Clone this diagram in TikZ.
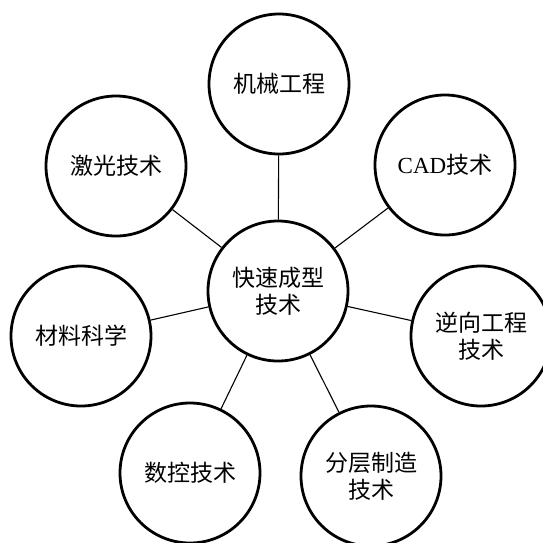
\documentclass[tikz,border=0pt]{standalone}
\usepackage{fontspec}
\setmainfont{Liberation Serif}
\newfontfamily\cjk{Noto Sans CJK SC}
\newcommand{\latin}[1]{{\rmfamily #1}}
\begin{document}
\begin{tikzpicture}[x=1pt,y=-1pt,
  bubble/.style={circle,draw,line width=2.8pt,minimum size=140pt,inner sep=0pt,
    fill=white,align=center,font=\fontsize{23}{27}\selectfont\cjk},
  link/.style={line width=1.1pt}]
\useasboundingbox (0,0) rectangle (543,542);
\node[bubble] (c0) at (278,291) {快速成型\\技术};
\node[bubble] (top) at (279,84) {机械工程};
\node[bubble] (laser) at (116,166) {激光技术};
\node[bubble] (cad) at (445,165) {\latin{CAD}技术};
\node[bubble] (mat) at (81,336) {材料科学};
\node[bubble] (rev) at (481,336) {逆向工程\\技术};
\node[bubble] (nc) at (190,473) {数控技术};
\node[bubble] (layer) at (371,476) {分层制造\\技术};
\foreach \n in {top,laser,cad,mat,rev,nc,layer}
  \draw[link] (c0) -- (\n);
\end{tikzpicture}
\end{document}
